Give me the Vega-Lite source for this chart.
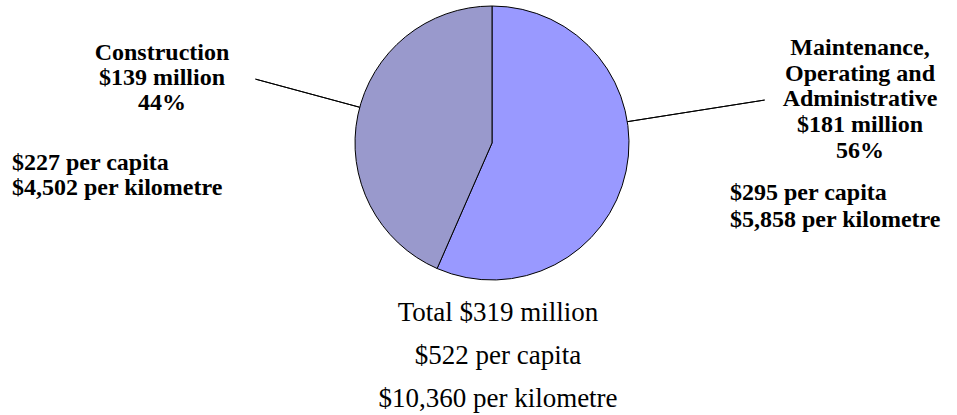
{
  "$schema": "https://vega.github.io/schema/vega-lite/v6.json",
  "width": 930,
  "height": 286,
  "autosize": {"type": "none"},
  "padding": {"left": 27, "top": 0, "right": 0, "bottom": 129},
  "background": "white",
  "config": {"view": {"stroke": null}},
  "data": {
    "values": [
      {"category": "Maintenance, Operating and Administrative", "amount": 181, "label": "Maintenance,\nOperating and\nAdministrative\n$181 million\n56%", "detail": "$295 per capita\n$5,858 per kilometre"},
      {"category": "Construction", "amount": 139, "label": "Construction\n$139 million\n44%", "detail": "$227 per capita\n$4,502 per kilometre"}
    ]
  },
  "title": {
    "text": ["Total $319 million", "$522 per capita", "$10,360 per kilometre"],
    "orient": "bottom",
    "anchor": "middle",
    "font": "Liberation Serif",
    "fontSize": 27,
    "fontWeight": "normal",
    "color": "black",
    "lineHeight": 43,
    "offset": 14,
    "dx": 6
  },
  "layer": [
    {
      "mark": {"type": "arc", "outerRadius": 137, "stroke": "black", "strokeWidth": 1},
      "encoding": {
        "theta": {"field": "amount", "type": "quantitative", "stack": true},
        "order": {"field": "amount", "type": "quantitative", "sort": "descending"},
        "color": {"field": "category", "type": "nominal", "legend": null,
          "scale": {"domain": ["Maintenance, Operating and Administrative", "Construction"], "range": ["#9999ff", "#9999cc"]}}
      }
    },
    {
      "mark": {"type": "arc", "innerRadius": 137, "outerRadius": 245, "padAngle": 3.1416, "thetaOffset": 0.0576, "fill": "transparent", "stroke": "black", "strokeWidth": 1},
      "encoding": {
        "theta": {"field": "amount", "type": "quantitative", "stack": true},
        "order": {"field": "amount", "type": "quantitative", "sort": "descending"},
        "detail": {"field": "category", "type": "nominal"},
        "strokeOpacity": {"condition": {"test": "datum.category === 'Construction'", "value": 1}, "value": 0}
      }
    },
    {
      "transform": [{"stack": "amount", "groupby": [], "sort": [{"field": "amount", "order": "descending"}], "as": ["a0", "a1"]}],
      "mark": {"type": "arc", "innerRadius": 137, "outerRadius": 276, "padAngle": 3.1416, "thetaOffset": 0.1, "theta2Offset": -0.8248, "fill": "transparent", "stroke": "black", "strokeWidth": 1},
      "encoding": {
        "theta": {"field": "a0", "type": "quantitative"},
        "theta2": {"field": "a1"},
        "strokeOpacity": {"condition": {"test": "datum.category !== 'Construction'", "value": 1}, "value": 0}
      }
    },
    {
      "mark": {"type": "text", "font": "Liberation Serif", "fontWeight": "bold", "fontSize": 24, "lineHeight": 25, "lineBreak": "\n", "align": "center", "baseline": "top", "radius": 345.4, "thetaOffset": 0.0935, "color": "black"},
      "encoding": {
        "theta": {"field": "amount", "type": "quantitative", "stack": true},
        "order": {"field": "amount", "type": "quantitative", "sort": "descending"},
        "detail": {"field": "category", "type": "nominal"},
        "text": {"condition": {"test": "datum.category === 'Construction'", "field": "label"}, "value": ""}
      }
    },
    {
      "mark": {"type": "text", "font": "Liberation Serif", "fontWeight": "bold", "fontSize": 24, "lineHeight": 25, "lineBreak": "\n", "align": "left", "baseline": "top", "radius": 480.1, "thetaOffset": -0.2227, "color": "black"},
      "encoding": {
        "theta": {"field": "amount", "type": "quantitative", "stack": true},
        "order": {"field": "amount", "type": "quantitative", "sort": "descending"},
        "detail": {"field": "category", "type": "nominal"},
        "text": {"condition": {"test": "datum.category === 'Construction'", "field": "detail"}, "value": ""}
      }
    },
    {
      "mark": {"type": "text", "font": "Liberation Serif", "fontWeight": "bold", "fontSize": 24, "lineHeight": 25.7, "lineBreak": "\n", "align": "center", "baseline": "top", "radius": 383.2, "thetaOffset": -0.489, "color": "black"},
      "encoding": {
        "theta": {"field": "amount", "type": "quantitative", "stack": true},
        "order": {"field": "amount", "type": "quantitative", "sort": "descending"},
        "detail": {"field": "category", "type": "nominal"},
        "text": {"condition": {"test": "datum.category !== 'Construction'", "field": "label"}, "value": ""}
      }
    },
    {
      "mark": {"type": "text", "font": "Liberation Serif", "fontWeight": "bold", "fontSize": 24, "lineHeight": 27, "lineBreak": "\n", "align": "left", "baseline": "top", "radius": 241.0, "thetaOffset": -0.0478, "color": "black"},
      "encoding": {
        "theta": {"field": "amount", "type": "quantitative", "stack": true},
        "order": {"field": "amount", "type": "quantitative", "sort": "descending"},
        "detail": {"field": "category", "type": "nominal"},
        "text": {"condition": {"test": "datum.category !== 'Construction'", "field": "detail"}, "value": ""}
      }
    }
  ]
}
